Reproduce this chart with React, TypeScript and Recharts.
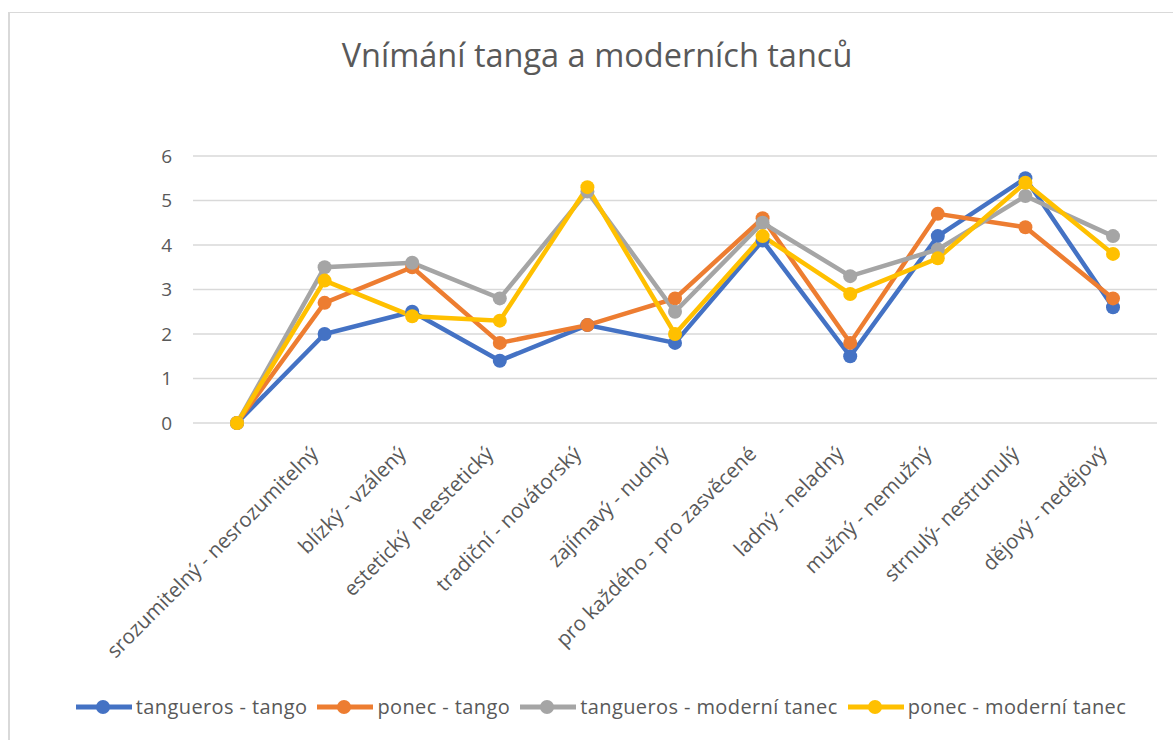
import { LineChart, Line, XAxis, YAxis, CartesianGrid, Legend } from 'recharts';

const categories = [
  '',
  'srozumitelný - nesrozumitelný',
  'blízký - vzálený',
  'estetický  neestetický',
  'tradiční - novátorský',
  'zajímavý - nudný',
  'pro každého - pro zasvěcené',
  'ladný - neladný',
  'mužný - nemužný',
  'strnulý- nestrunulý',
  'dějový - nedějový',
];

const tanguerosTango = [0, 2.0, 2.5, 1.4, 2.2, 1.8, 4.1, 1.5, 4.2, 5.5, 2.6];
const ponecTango = [0, 2.7, 3.5, 1.8, 2.2, 2.8, 4.6, 1.8, 4.7, 4.4, 2.8];
const tanguerosModern = [0, 3.5, 3.6, 2.8, 5.2, 2.5, 4.5, 3.3, 3.9, 5.1, 4.2];
const ponecModern = [0, 3.2, 2.4, 2.3, 5.3, 2.0, 4.2, 2.9, 3.7, 5.4, 3.8];

const yTicks = [0, 1, 2, 3, 4, 5, 6];

const series = [
  { key: 'tt', name: 'tangueros - tango', color: '#4472C4', values: tanguerosTango },
  { key: 'pt', name: 'ponec - tango', color: '#ED7D31', values: ponecTango },
  { key: 'tm', name: 'tangueros - moderní tanec', color: '#A5A5A5', values: tanguerosModern },
  { key: 'pm', name: 'ponec - moderní tanec', color: '#FFC000', values: ponecModern },
];

const data = categories.map((label, i) => {
  const row: Record<string, string | number> = { label };
  series.forEach((s) => {
    row[s.key] = s.values[i];
  });
  return row;
});

const FONT = '"Open Sans", sans-serif';
const TEXT = '#595959';

// rotated category labels, ending just at the tick like Excel does
const AngledTick = ({ x, y, payload }: any) => (
  <g transform={`translate(${x - 5},${y + 32})`}>
    <text
      x={0}
      y={0}
      textAnchor="end"
      transform="rotate(-45)"
      fill={TEXT}
      fontSize={20.5}
      fontFamily={FONT}
      style={{ whiteSpace: 'pre' }}
    >
      {payload.value}
    </text>
  </g>
);

// legend keeps the series order (the payload comes back reversed)
const LegendContent = () => (
  <div
    style={{
      display: 'flex',
      justifyContent: 'center',
      alignItems: 'center',
      paddingLeft: 29,
      fontFamily: FONT,
      fontSize: 20,
      letterSpacing: 0.4,
      color: TEXT,
      whiteSpace: 'nowrap',
    }}
  >
    {series.map((s) => (
      <div key={s.key} style={{ display: 'flex', alignItems: 'center', marginRight: 10 }}>
        <svg width={56} height={16} style={{ marginRight: 4 }}>
          <line x1={0} y1={8} x2={56} y2={8} stroke={s.color} strokeWidth={5} />
          <circle cx={27} cy={8} r={7} fill={s.color} />
        </svg>
        <span>{s.name}</span>
      </div>
    ))}
  </div>
);

export default function App() {
  return (
    <div
      style={{
        position: 'fixed',
        left: 8,
        top: 12,
        width: 1163,
        height: 727,
        borderTop: '1px solid #d9d9d9',
        borderLeft: '2px solid #d9d9d9',
        background: '#fff',
      }}
    >
      <div
        style={{
          position: 'absolute',
          left: 587,
          top: 26,
          transform: 'translateX(-50%)',
          fontFamily: FONT,
          fontSize: 32.5,
          lineHeight: '32px',
          color: TEXT,
          whiteSpace: 'nowrap',
        }}
      >
        Vnímání tanga a moderních tanců
      </div>
      <LineChart
        width={1163}
        height={727}
        data={data}
        margin={{ top: 143, right: 16, bottom: 67, left: 0 }}
      >
        <CartesianGrid vertical={false} stroke="#d9d9d9" strokeWidth={1.5} />
        <XAxis
          dataKey="label"
          interval={0}
          axisLine={false}
          tickLine={false}
          tickSize={0}
          tickMargin={0}
          height={250}
          padding={{ left: 44, right: 44 }}
          tick={<AngledTick />}
        />
        <YAxis
          domain={[0, 6]}
          ticks={yTicks}
          axisLine={false}
          tickLine={false}
          tickSize={0}
          tickMargin={21}
          width={183}
          tick={{ fill: TEXT, fontSize: 19, fontFamily: FONT }}
        />
        <Legend
          layout="vertical"
          align="center"
          verticalAlign="middle"
          wrapperStyle={{ position: 'absolute', top: 680, left: 0, width: 1163 }}
          content={<LegendContent />}
        />
        {series.map((s) => (
          <Line
            key={s.key}
            type="linear"
            dataKey={s.key}
            name={s.name}
            stroke={s.color}
            strokeWidth={4.5}
            dot={{ r: 7, fill: s.color, stroke: s.color, strokeWidth: 0 }}
            activeDot={false}
            isAnimationActive={false}
          />
        ))}
      </LineChart>
    </div>
  );
}
